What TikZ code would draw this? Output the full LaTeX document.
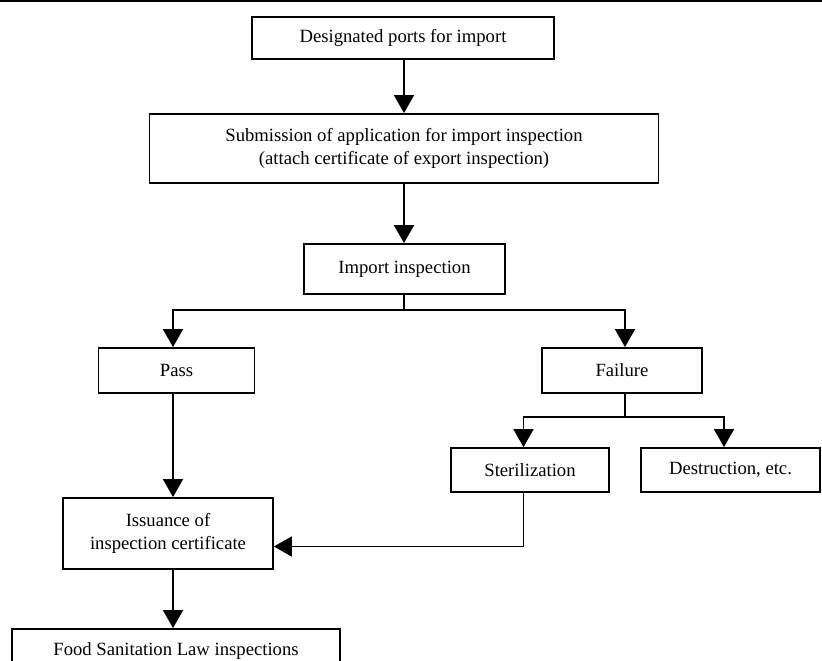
\documentclass[tikz,border=0pt]{standalone}
\usepackage{fontspec}
\setmainfont{Liberation Serif}
\usetikzlibrary{arrows.meta}

\tikzset{
  box/.style={draw, line width=1.35pt, align=center, inner sep=0pt,
    font=\fontsize{14}{17}\selectfont},
  arr/.style={line width=1.35pt, -{Triangle[width=15pt,length=13.5pt]}},
  ln/.style={line width=1.35pt},
}

\begin{document}
\begin{tikzpicture}[x=0.75pt, y=-0.75pt]
  \useasboundingbox (0,0) rectangle (822,661);
  \draw[line width=1.5pt] (0,1) -- (822,1);

  \node[box, minimum width=226.5pt, minimum height=31.5pt] (ports) at (403,38) {Designated ports for import};
  \node[box, minimum width=381.75pt, minimum height=51.75pt] (subm) at (404,148.5)
    {Submission of application for import inspection\\(attach certificate of export inspection)};
  \node[box, minimum width=150.75pt, minimum height=37.5pt] (insp) at (404.5,269) {Import inspection};

  \node[box, minimum width=117pt, minimum height=33.75pt] (pass) at (176.5,370.5) {Pass};
  \node[box, minimum width=120pt, minimum height=33.75pt] (fail) at (622,370.5) {Failure};

  \node[box, minimum width=118.5pt, minimum height=33pt] (ster) at (530,470) {Sterilization};
  \node[box, minimum width=134.25pt, minimum height=33pt] (destr) at (730.5,470) {Destruction, etc.};

  \node[box, minimum width=157.5pt, minimum height=53.25pt] (issue) at (168,533.5)
    {Issuance of\\inspection certificate};
  \node[box, minimum width=246pt, minimum height=33pt] (food) at (176,651) {Food Sanitation Law inspections};

  \coordinate (mcol) at (404,0);
  \coordinate (pcol) at (173,0);
  \coordinate (fcol) at (625,0);
  \coordinate (scol) at (523.5,0);
  \coordinate (dcol) at (724,0);
  \coordinate (split) at (404,310);
  \coordinate (fsplit) at (625,417);
  \coordinate (back) at (0,546.5);

  \draw[arr] (ports.south -| mcol) -- (subm.north -| mcol);
  \draw[arr] (subm.south -| mcol) -- (insp.north -| mcol);
  \draw[ln] (insp.south -| mcol) -- (split);
  \draw[arr] (split) -| (pass.north -| pcol);
  \draw[arr] (split) -| (fail.north -| fcol);
  \draw[ln] (fail.south -| fcol) -- (fsplit);
  \draw[arr] (fsplit) -| (ster.north -| scol);
  \draw[arr] (fsplit) -| (destr.north -| dcol);
  \draw[arr] (pass.south -| pcol) -- (issue.north -| pcol);
  \draw[arr] (ster.south -| scol) |- (issue.east |- back);
  \draw[arr] (issue.south -| pcol) -- (food.north -| pcol);
\end{tikzpicture}
\end{document}
